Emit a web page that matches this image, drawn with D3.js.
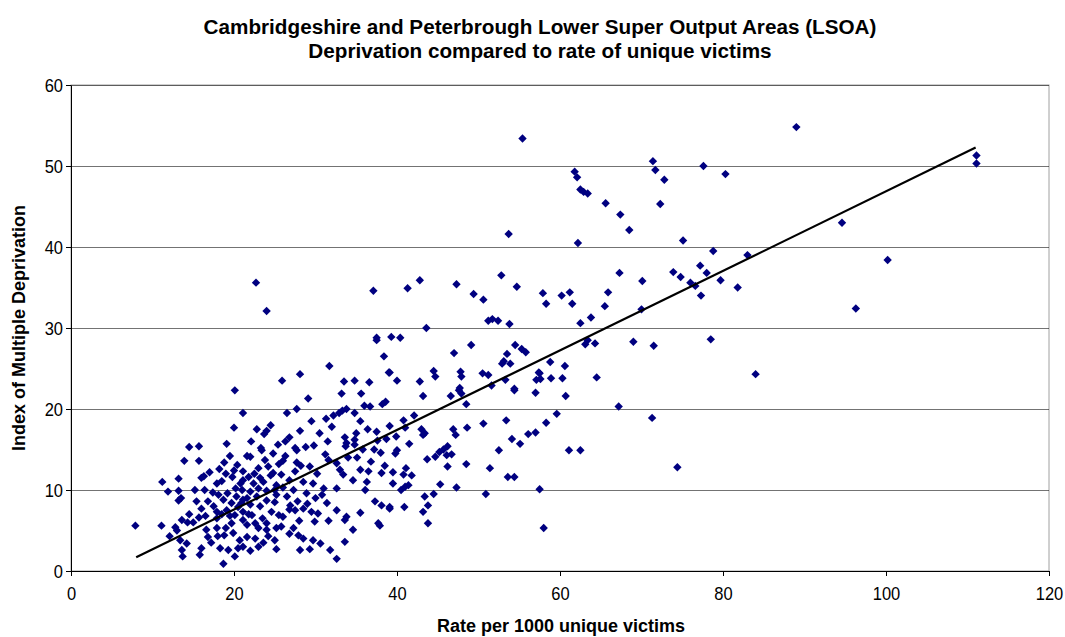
<!DOCTYPE html>
<html>
<head>
<meta charset="utf-8">
<script src="https://cdn.jsdelivr.net/npm/d3@7"></script>
<style>
  body { margin: 0; background: #fff; }
  svg { font-family: "Liberation Sans", Arial, sans-serif; }
</style>
</head>
<body>
<div id="vis"></div>
<script>

var titleLines = ["Cambridgeshire and Peterbrough Lower Super Output Areas (LSOA)",
                  "Deprivation compared to rate of unique victims"];
var xTitle = "Rate per 1000 unique victims";
var yTitle = "Index of Multiple Deprivation";

var xTicks = [0, 20, 40, 60, 80, 100, 120];
var yTicks = [0, 10, 20, 30, 40, 50, 60];

// trend line as drawn in the original (linear fit)
var trendSlope = 0.491;
var trendIntercept = -2.23;
var trendRange = [8, 111];

// [rate per 1000, IMD score]
var points = [
  [55.4,53.4],[89.0,54.8],[111.1,51.3],[111.1,50.3],[22.7,35.6],[24.0,32.1],
  [61.8,49.3],[62.1,48.6],[62.5,47.1],[62.9,46.8],[63.4,46.6],[65.6,45.4],[67.4,44.0],[68.5,42.1],
  [62.2,40.5],[71.4,50.6],[71.7,49.5],[72.8,48.3],[72.3,45.3],[77.6,50.0],[80.3,49.0],[75.1,40.8],
  [78.8,39.5],[77.2,37.7],[78.0,36.8],[79.7,35.9],[81.8,35.0],[73.9,36.9],[74.8,36.3],[76.0,35.6],
  [76.6,35.2],[77.3,34.0],[70.1,35.8],[67.3,36.8],[65.9,34.4],[65.5,32.7],[57.9,34.3],[58.3,33.0],
  [60.2,34.0],[61.2,34.4],[61.5,33.0],[94.6,43.0],[83.0,39.0],[100.2,38.4],[96.3,32.4],[84.0,24.3],
  [70.0,32.3],[62.5,30.6],[63.8,31.3],[63.1,28.0],[63.4,28.5],[64.3,28.1],[69.0,28.3],[71.5,27.8],
  [78.5,28.6],[58.8,25.8],[60.6,25.3],[57.5,24.4],[57.6,23.7],[58.9,23.8],[60.3,23.8],[64.5,23.9],
  [60.7,21.6],[67.2,20.3],[59.6,19.4],[58.3,18.3],[71.3,18.9],[61.1,14.9],[62.5,14.9],[74.4,12.8],
  [57.5,10.1],[58.0,5.3],
  [53.7,41.6],[41.3,34.9],[42.8,35.9],[47.3,35.4],[49.4,34.2],[50.6,33.5],[52.8,36.5],[54.7,35.1],
  [51.2,30.9],[51.7,31.1],[52.4,30.9],[53.8,30.5],[43.6,30.0],[39.3,28.9],[40.4,28.8],[49.1,27.9],
  [54.5,27.9],[55.3,27.4],[55.8,27.0],[47.0,26.9],[53.5,26.8],[52.9,25.6],[53.1,25.9],[53.9,25.6],
  [44.5,24.7],[44.7,24.0],[47.8,24.6],[47.9,24.0],[50.5,24.4],[51.2,24.2],[39.1,24.5],[40.0,23.5],
  [42.8,23.4],[53.3,23.6],[57.4,24.5],[57.1,23.6],[47.7,22.6],[51.6,22.9],[54.4,22.5],
  [43.2,21.6],[46.6,21.6],[47.6,22.3],[47.9,21.9],[48.5,20.6],[54.4,22.3],[57.0,22.0],
  [42.1,19.2],[40.8,18.6],[41.0,17.7],[39.1,17.9],[39.9,16.6],[43.0,17.5],[43.2,16.8],[43.4,17.0],
  [41.5,15.7],[40.0,14.9],[39.8,14.5],[46.9,17.5],[47.2,16.8],[48.6,17.7],[50.6,18.2],[53.4,18.6],
  [56.1,16.9],[57.0,17.1],[54.1,16.3],[55.1,15.7],[52.5,14.9],[43.7,13.8],[44.7,14.1],[45.2,14.7],
  [45.7,15.0],[46.2,15.4],[46.1,14.3],[46.7,14.4],[46.2,12.9],[48.5,13.2],[51.4,12.7],[53.6,11.6],
  [54.4,11.6],[39.5,12.2],[41.1,12.7],[40.8,11.9],[41.8,11.8],[39.5,10.8],[40.5,10.0],[41.0,10.4],
  [41.4,10.6],[45.3,10.7],[47.3,10.3],[50.9,9.5],[43.4,9.2],[44.5,9.5],[39.1,7.9],[40.9,7.9],
  [43.8,8.1],[43.2,7.3],[43.8,5.9],
  [37.5,28.5],[38.4,26.5],[39.0,24.5],[31.7,25.3],[28.1,24.3],[25.9,23.5],[33.5,23.4],[34.8,23.5],
  [36.6,23.3],[33.2,21.9],[35.6,21.9],[29.1,21.3],[27.7,20.0],[21.1,19.5],[36.0,20.4],[36.7,20.3],
  [38.2,20.6],[38.6,20.9],[33.8,20.0],[33.3,19.8],[34.8,19.5],[32.9,19.5],[32.2,19.2],[31.3,18.8],
  [28.1,17.3],[36.4,17.5],[37.5,17.2],[24.0,17.3],[23.7,16.9],[22.1,16.0],[26.8,16.5],[26.3,16.0],
  [25.4,15.6],[23.3,15.2],[33.6,16.5],[34.8,16.2],[33.7,15.4],[37.6,16.1],[38.7,16.3],[28.8,15.3],
  [27.5,15.2],[37.1,34.6],[37.5,28.8],
  [20.1,22.3],[20.0,17.7],[19.1,15.7],[14.5,15.3],[15.7,15.4],
  [13.9,13.6],[15.7,13.6],[18.8,13.4],[19.5,14.2],[20.4,13.1],[21.6,14.2],[16.3,11.7],[13.2,11.4],
  [11.2,11.0],[11.9,9.8],[13.2,9.9],[13.2,8.7],[13.5,9.0],[17.9,10.8],[18.5,11.1],[19.8,11.6],
  [20.8,10.8],[21.1,12.3],[16.4,10.0],[17.4,9.7],[18.1,9.4],[15.4,8.6],[16.8,8.6],[16.0,7.7],
  [18.7,8.8],[19.7,8.4],[20.3,9.2],[21.1,8.8],[17.9,7.3],[19.1,7.5],[15.7,6.6],[17.9,6.5],
  [20.1,6.9],[21.1,7.3],[7.9,5.6],[11.1,5.6],[12.8,5.4],[13.6,6.3],[14.3,6.0],[12.1,4.3],
  [13.0,5.0],[13.4,3.8],[14.2,3.4],[13.7,1.8],[13.6,2.6],[15.8,2.0],[16.0,2.8],[16.8,4.2],
  [16.6,5.1],[17.9,5.3],[18.3,2.8],[19.3,2.6],[18.7,0.9],[20.1,1.8],[18.8,4.4],[19.9,4.7],
  [20.7,3.8],[21.1,3.0],[21.6,5.7],[19.7,5.9],[21.1,6.3],
  [23.4,14.9],[24.8,14.5],[27.7,14.9],[22.0,14.1],[23.8,13.7],[26.0,13.6],[27.7,13.4],[23.0,12.7],
  [24.2,12.9],[24.8,12.1],[27.5,12.3],[29.3,12.9],[31.2,14.4],[31.6,13.7],[32.6,13.3],[33.8,15.8],
  [34.8,15.6],[35.1,14.0],[38.0,14.6],[21.1,11.2],[22.4,10.8],[23.6,11.0],[25.2,10.6],[28.5,11.0],
  [29.7,10.8],[33.4,11.9],[34.6,11.2],[35.5,12.5],[36.5,12.3],[36.3,11.0],[38.1,12.1],[32.6,10.2],
  [36.1,10.0],[20.9,8.4],[21.6,9.0],[22.8,9.2],[25.2,9.4],[26.5,9.2],[26.9,8.1],[28.9,9.6],
  [30.8,9.4],[31.4,8.4],[37.3,8.6],[38.1,8.1],[39.1,7.7],[22.2,6.9],[24.6,7.3],[26.0,6.7],
  [27.5,7.5],[28.5,7.7],[29.5,7.3],[30.3,7.1],[32.6,7.5],[33.8,6.7],[35.5,7.2],[29.9,6.1],
  [31.6,6.2],[33.6,6.3],[37.7,5.9],[37.9,5.6],[23.0,5.3],[24.0,5.1],[25.2,5.3],[27.3,5.3],
  [34.6,5.1],[21.6,4.2],[22.6,4.0],[25.0,3.8],[27.9,4.4],[28.5,4.0],[29.7,3.8],[30.6,3.4],
  [33.6,3.6],[23.0,3.0],[25.2,2.7],[28.1,2.6],[29.3,2.7],[31.8,2.6],[32.6,1.5],
  [17.0,12.2],[18.2,12.6],[19.0,12.0],[20.0,12.4],[21.8,11.6],[22.5,12.0],[23.2,11.5],[24.5,11.8],
  [25.8,11.9],[26.8,11.2],[20.2,10.2],[21.0,10.0],[22.0,9.8],[23.0,10.2],[24.0,9.9],[25.0,10.0],
  [26.0,10.3],[27.3,10.0],[19.2,9.6],[24.0,8.7],[25.0,8.5],[23.2,8.0],[22.0,8.2],[20.5,7.9],
  [21.8,7.0],[23.5,6.5],[25.5,6.9],[26.8,7.6],[27.8,8.6],[28.0,6.2],[22.6,5.9],[24.0,5.9],
  [25.8,5.5],[26.8,4.6],[24.2,4.3],[23.6,3.5],[22.0,2.5],[20.5,2.8],[19.0,5.3],[18.0,4.3],
  [17.2,3.5],[16.5,6.8],[15.0,6.0],[14.5,7.0],[15.2,10.0],[16.0,11.5],[17.5,8.0],[18.5,7.0],
  [19.5,6.8],[30.0,9.0],[31.0,10.2],[29.0,8.3],[30.2,12.0],[28.2,13.0],[26.3,14.2],[25.5,13.2],
  [29.8,15.5],[31.5,16.0],[30.5,17.0],[24.5,18.0],[22.8,17.5],[26.5,19.5],[29.5,18.5],[32.0,17.8],
  [35.0,17.0],[35.5,18.5],[34.0,14.0],[35.8,15.0],[37.2,15.0],[36.8,13.5],[38.5,13.0],[33.0,12.5]
];

var width = 1065;
var height = 637;
var margin = { top: 85, right: 16, bottom: 66, left: 71 };

var svg = d3.select('#vis')
  .append('svg')
  .attr('width', width)
  .attr('height', height);

var x = d3.scaleLinear()
  .domain([0, 120])
  .range([margin.left, width - margin.right]);

var y = d3.scaleLinear()
  .domain([0, 60])
  .range([height - margin.bottom, margin.top]);

// titles
svg.selectAll('.title')
  .data(titleLines)
  .enter().append('text')
  .attr('class', 'title')
  .attr('x', 540)
  .attr('y', function (d, i) { return 34 + i * 24; })
  .attr('text-anchor', 'middle')
  .attr('font-size', 20.7)
  .attr('font-weight', 'bold')
  .text(function (d) { return d; });

// plot frame
svg.append('rect')
  .attr('x', x(0))
  .attr('y', y(60))
  .attr('width', x(120) - x(0))
  .attr('height', y(0) - y(60))
  .attr('fill', 'none')
  .attr('stroke', '#a0a0a0')
  .attr('stroke-width', 1);

// grid
svg.selectAll('.grid')
  .data(yTicks.filter(function (d) { return d > 0; }))
  .enter().append('line')
  .attr('class', 'grid')
  .attr('x1', x(0))
  .attr('x2', x(120))
  .attr('y1', function (d) { return Math.round(y(d)) + 0.5; })
  .attr('y2', function (d) { return Math.round(y(d)) + 0.5; })
  .attr('stroke', '#000')
  .attr('stroke-opacity', 0.55)
  .attr('stroke-width', 1);

// axes
var xAxis = d3.axisBottom(x).tickValues(xTicks).tickSize(5).tickSizeOuter(0);
var yAxis = d3.axisLeft(y).tickValues(yTicks).tickSize(5).tickSizeOuter(0);

var gx = svg.append('g')
  .attr('transform', 'translate(0,' + y(0) + ')')
  .call(xAxis);
var gy = svg.append('g')
  .attr('transform', 'translate(' + x(0) + ',0)')
  .call(yAxis);

[gx, gy].forEach(function (g) {
  g.selectAll('path, line').attr('stroke', '#000');
  g.selectAll('text').attr('font-size', 16.5).attr('fill', '#000')
    .attr('font-family', '"Liberation Sans", Arial, sans-serif');
});
gx.selectAll('text').attr('y', 0).attr('dy', 0)
  .attr('transform', 'translate(0,29) scale(1,1.15)');
gy.selectAll('text').attr('x', 0).attr('dy', 0)
  .attr('transform', 'translate(-8,6) scale(1,1.15)');

svg.append('text')
  .attr('x', 561)
  .attr('y', 632)
  .attr('text-anchor', 'middle')
  .attr('font-size', 18)
  .attr('font-weight', 'bold')
  .text(xTitle);

svg.append('text')
  .attr('transform', 'translate(25,' + ((y(0) + y(60)) / 2) + ') rotate(-90)')
  .attr('text-anchor', 'middle')
  .attr('font-size', 18)
  .attr('font-weight', 'bold')
  .text(yTitle);

// markers
var diamond = 'M0,-4.2L4.2,0L0,4.2L-4.2,0Z';
svg.selectAll('.pt')
  .data(points)
  .enter().append('path')
  .attr('class', 'pt')
  .attr('d', diamond)
  .attr('transform', function (d) { return 'translate(' + x(d[0]) + ',' + y(d[1]) + ')'; })
  .attr('fill', '#000080');

// trend line
svg.append('line')
  .attr('x1', x(trendRange[0]))
  .attr('y1', y(trendSlope * trendRange[0] + trendIntercept))
  .attr('x2', x(trendRange[1]))
  .attr('y2', y(trendSlope * trendRange[1] + trendIntercept))
  .attr('stroke', '#000')
  .attr('stroke-width', 2.2);

</script>
</body>
</html>
